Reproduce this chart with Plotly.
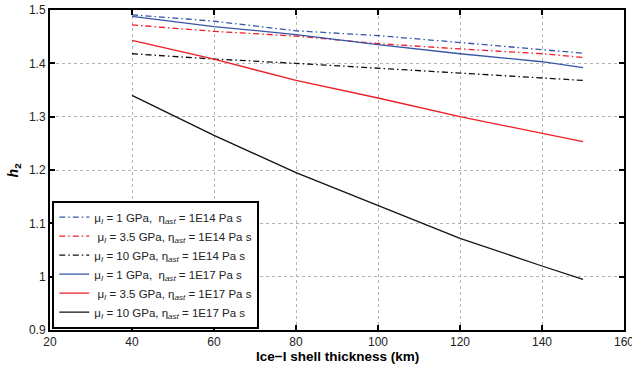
import plotly.graph_objects as go

thickness = [40, 60, 80, 100, 120, 140, 150]
blue_dd = [1.491, 1.479, 1.461, 1.452, 1.439, 1.426, 1.419]
red_dd = [1.472, 1.460, 1.451, 1.437, 1.427, 1.418, 1.411]
black_dd = [1.418, 1.408, 1.400, 1.391, 1.382, 1.373, 1.368]
blue_solid = [1.488, 1.469, 1.454, 1.435, 1.418, 1.403, 1.392]
red_solid = [1.443, 1.408, 1.368, 1.335, 1.300, 1.268, 1.253]
black_solid = [1.340, 1.265, 1.195, 1.133, 1.072, 1.020, 0.995]

labels = [
    "μ<sub><i>I</i></sub> = 1 GPa,  η<sub><i>ast</i></sub> = 1E14 Pa s",
    " μ<sub><i>I</i></sub> = 3.5 GPa, η<sub><i>ast</i></sub> = 1E14 Pa s",
    "μ<sub><i>I</i></sub> = 10 GPa, η<sub><i>ast</i></sub> = 1E14 Pa s",
    "μ<sub><i>I</i></sub> = 1 GPa,  η<sub><i>ast</i></sub> = 1E17 Pa s",
    " μ<sub><i>I</i></sub> = 3.5 GPa, η<sub><i>ast</i></sub> = 1E17 Pa s",
    "μ<sub><i>I</i></sub> = 10 GPa, η<sub><i>ast</i></sub> = 1E17 Pa s",
]

BLUE = "#3655a8"
RED = "#ee1c25"
BLACK = "#111111"

series = [
    (blue_dd, BLUE, "dashdot"),
    (red_dd, RED, "dashdot"),
    (black_dd, BLACK, "dashdot"),
    (blue_solid, BLUE, "solid"),
    (red_solid, RED, "solid"),
    (black_solid, BLACK, "solid"),
]

fig = go.Figure()
for (ys, col, dash), lab in zip(series, labels):
    fig.add_trace(go.Scatter(
        x=thickness, y=ys, mode="lines", name=lab,
        line=dict(color=col, width=1.3, dash="6px,3px,1.5px,3px" if dash == "dashdot" else "solid"),
    ))

font_family = "Liberation Sans, Arial, sans-serif"

fig.update_layout(
    width=632, height=365,
    margin=dict(l=50, r=8, t=10, b=35),
    paper_bgcolor="white", plot_bgcolor="white",
    font=dict(family=font_family, size=12, color="#222222"),
    showlegend=True,
    legend=dict(
        x=0.004, y=0.004, xanchor="left", yanchor="bottom",
        bgcolor="white", bordercolor="black", borderwidth=2,
        font=dict(size=11.5, color="#222222", family=font_family),
        itemwidth=30, tracegroupgap=0,
    ),
    annotations=[
        dict(text="<b>Ice−I shell thickness (km)</b>", xref="paper", yref="paper",
             x=0.5, y=-0.052, yanchor="top", xanchor="center", showarrow=False,
             font=dict(size=13.5, color="black")),
        dict(text="<b><i>h</i><sub>2</sub></b>", xref="paper", yref="paper",
             x=-0.062, y=0.5, xanchor="center", yanchor="middle", textangle=-90, showarrow=False,
             font=dict(size=14, color="black")),
    ],
)

fig.update_xaxes(
    range=[20, 160], tickvals=[20, 40, 60, 80, 100, 120, 140, 160],
    ticks="inside", ticklen=5, tickwidth=1.5, tickcolor="black",
    showline=True, linecolor="black", linewidth=2, mirror="ticks",
    showgrid=True, gridcolor="#b4b4b4", griddash="dot", gridwidth=1,
    zeroline=False, automargin=False, ticklabeloverflow="allow",
)
fig.update_yaxes(
    range=[0.9, 1.5], tickvals=[0.9, 1.0, 1.1, 1.2, 1.3, 1.4, 1.5],
    ticktext=["0.9", "1", "1.1", "1.2", "1.3", "1.4", "1.5"],
    ticks="inside", ticklen=5, tickwidth=1.5, tickcolor="black",
    showline=True, linecolor="black", linewidth=2, mirror="ticks",
    showgrid=True, gridcolor="#b4b4b4", griddash="dot", gridwidth=1,
    zeroline=False, automargin=False, ticklabeloverflow="allow",
)

fig.write_html("out.html", config={"displayModeBar": False},
               post_script="document.body.style.margin='0';document.body.style.overflow='hidden';")
